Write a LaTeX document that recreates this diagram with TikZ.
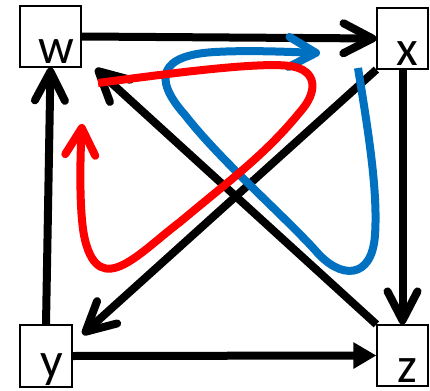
\documentclass[tikz,border=0pt]{standalone}
\usepackage{fontspec}
\setmainfont{Carlito}
\usetikzlibrary{arrows.meta}
\definecolor{offblue}{RGB}{0,112,192}
\definecolor{offred}{RGB}{255,0,0}
\begin{document}
\begin{tikzpicture}[x=1pt,y=-1pt,
  box/.style={draw, line width=1.2pt, inner sep=0pt},
  lbl/.style={anchor=base, inner sep=0pt, font=\fontsize{50}{50}\selectfont},
  blk/.style={line width=8pt, -{Straight Barb[length=29pt,width=30pt,round]}},
  blktri/.style={line width=8pt, -{Triangle[length=23pt,width=25pt]}},
  curvearrow/.style={line width=8pt, -{Straight Barb[length=27pt,width=30pt,round]}}]
\useasboundingbox (0,0) rectangle (430,390);
% boxes
\node[box, minimum width=61pt, minimum height=61pt] (w) at (50.5,36.5) {};
\node[box, minimum width=51pt, minimum height=61pt] (x) at (402.5,38.5) {};
\node[box, minimum width=52pt, minimum height=62pt] (y) at (46,356) {};
\node[box, minimum width=51pt, minimum height=61pt] (z) at (402.5,355.5) {};
% labels
\node[lbl] (wl) at ([xshift=5.5pt,yshift=4pt]w.south) {w};
\node[lbl] (xl) at ([xshift=4.5pt,yshift=4pt]x.south) {x};
\node[lbl] (yl) at ([xshift=6pt,yshift=10pt]y.south) {y};
\node[lbl] (zl) at ([xshift=4.5pt,yshift=4pt]z.south) {z};
% tips
\coordinate (xytip) at ([xshift=10pt,yshift=-10pt]y.north east);
\coordinate (zwtip) at ([xshift=14pt,yshift=-1pt]w.south east);
% black edges
\draw[blk] (w.east) -- (x.west);
\draw[blk] (x.south) -- (z.north);
\draw[blktri] (y.east) -- (z.west);
\draw[blk] (y.north) -- (w.south);
\draw[blk] (x.south west) -- (xytip);
\draw[blk] (z.north west) -- (zwtip);
% blue curve
\draw[curvearrow, offblue]
  (358,68) .. controls (368,130) and (378,190) .. (375,235)
  .. controls (372,280) and (340,280) .. (315,250)
  .. controls (280,212) and (220,160) .. (185,115)
  .. controls (152,78) and (160,55) .. (215,52)
  .. controls (250,50) and (290,52) .. (320,53);
% red curve
\draw[curvearrow, offred]
  (98,83) .. controls (180,72) and (260,62) .. (290,66)
  .. controls (318,70) and (318,92) .. (300,112)
  .. controls (265,155) and (230,180) .. (180,222)
  .. controls (140,252) and (100,300) .. (85,240)
  .. controls (79,215) and (80,160) .. (82,124);
\end{tikzpicture}
\end{document}
